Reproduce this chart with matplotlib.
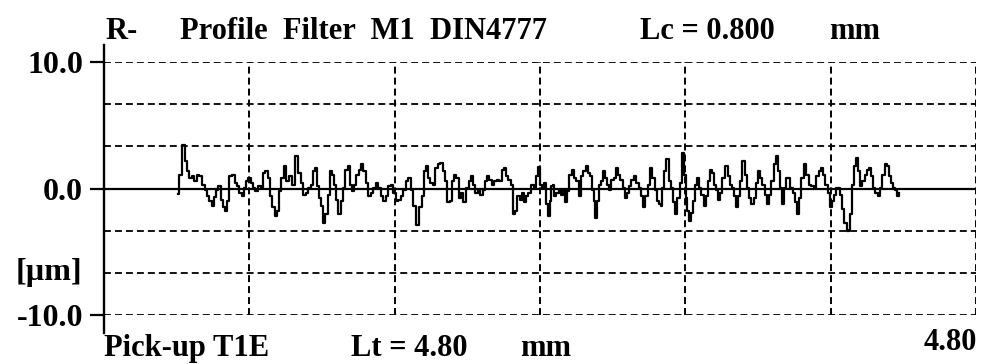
import numpy as np
import matplotlib
matplotlib.use("Agg")
import matplotlib.pyplot as plt
from matplotlib.lines import Line2D

# ---------------- data ----------------
# profile position along trace [mm]
pos_mm = [
    0.409, 0.418, 0.437, 0.450, 0.464, 0.477, 0.492, 0.501, 0.519, 0.532,
    0.547, 0.561, 0.574, 0.587, 0.598, 0.611, 0.624, 0.635, 0.648, 0.657,
    0.672, 0.684, 0.697, 0.712, 0.725, 0.739, 0.752, 0.763, 0.776, 0.789,
    0.800, 0.813, 0.826, 0.840, 0.855, 0.868, 0.881, 0.895, 0.908, 0.919,
    0.932, 0.947, 0.960, 0.969, 0.982, 0.996, 1.009, 1.024, 1.042,
    1.062, 1.075, 1.090, 1.105, 1.117, 1.130, 1.145, 1.158, 1.167, 1.178,
    1.191, 1.200, 1.213, 1.224, 1.237, 1.250, 1.261, 1.270, 1.283, 1.295,
    1.310, 1.323, 1.334, 1.347, 1.360, 1.371, 1.383, 1.396, 1.407, 1.420,
    1.433, 1.448, 1.461, 1.475, 1.488, 1.503, 1.516, 1.530, 1.545, 1.558,
    1.571, 1.585, 1.600, 1.613, 1.626, 1.640, 1.655, 1.668, 1.681, 1.695,
    1.710,
    1.728, 1.743, 1.756, 1.765, 1.776, 1.789, 1.802, 1.816, 1.829, 1.844,
    1.857, 1.872, 1.884, 1.897, 1.908, 1.921, 1.932, 1.945, 1.960, 1.972,
    1.985, 2.000, 2.013, 2.024, 2.037, 2.050, 2.064, 2.077, 2.092, 2.105,
    2.116, 2.128, 2.141, 2.156, 2.169, 2.183, 2.196, 2.207, 2.220, 2.233,
    2.244, 2.257, 2.270, 2.281, 2.294, 2.306, 2.317, 2.330, 2.343, 2.358,
    2.371, 2.382,
    2.393, 2.405, 2.418, 2.429, 2.439, 2.448, 2.457, 2.466, 2.475, 2.484,
    2.497, 2.510, 2.521, 2.534, 2.543, 2.556, 2.567, 2.580, 2.593, 2.607,
    2.620, 2.631, 2.644, 2.657, 2.668, 2.681, 2.690, 2.701, 2.708, 2.719,
    2.730, 2.741, 2.750, 2.763, 2.776, 2.787, 2.800, 2.813, 2.824, 2.837,
    2.849, 2.861, 2.870, 2.883, 2.895, 2.910, 2.923, 2.938, 2.950, 2.961,
    2.974, 2.987, 2.998, 3.011, 3.024, 3.038, 3.053, 3.062,
    3.068, 3.077, 3.090, 3.101, 3.114, 3.127, 3.138, 3.150, 3.163, 3.174,
    3.187, 3.196, 3.206, 3.215, 3.224, 3.233, 3.246, 3.257, 3.270, 3.283,
    3.294, 3.306, 3.319, 3.330, 3.339, 3.352, 3.365, 3.376, 3.389, 3.398,
    3.411, 3.426, 3.439, 3.450, 3.462, 3.475, 3.486, 3.499, 3.508, 3.521,
    3.532, 3.545, 3.558, 3.569, 3.582, 3.594, 3.605, 3.618, 3.631, 3.642,
    3.655, 3.668, 3.679, 3.692, 3.703, 3.714, 3.725,
    3.739, 3.749, 3.761, 3.772, 3.785, 3.798, 3.809, 3.822, 3.831, 3.844,
    3.859, 3.872, 3.886, 3.899, 3.914, 3.927, 3.941, 3.954, 3.965, 3.978,
    3.991, 4.002, 4.011, 4.024, 4.037, 4.048, 4.060, 4.070, 4.082, 4.094,
    4.103, 4.112, 4.121, 4.132, 4.143, 4.154, 4.167, 4.180, 4.193, 4.204,
    4.216, 4.229, 4.240, 4.253, 4.266, 4.277, 4.290, 4.303, 4.314, 4.327,
    4.339, 4.350, 4.363, 4.372, 4.378,
]
# profile height [um]
height_um = [
    -0.4, 1.1, 3.4, 2.2, 1.4, 0.85, 1.0, 0.6, 1.1, 1.0,
    0.3, -0.1, -0.6, -1.0, -1.4, -0.7, -0.1, 0.2, -0.9, -1.5,
    -1.8, -1.0, 1.0, 1.1, 0.45, 0.2, -0.35, -0.6, 0.05, 0.6,
    0.85, 0.45, 0.05, -0.2, 0.2, 0.05, 1.25, 1.4, 0.85, -0.6,
    -1.5, -2.2, -1.8, -0.2, 0.85, 1.75, 0.6, 1.0, 0.3,
    2.55, 1.25, 0.45, -0.5, -0.35, 0.05, 0.3, 1.35, 1.6, 0.2,
    -0.75, -1.4, -2.7, -2.05, -0.5, 1.35, 1.1, 0.3, -0.9, -2.05,
    -1.0, 0.05, 1.5, 1.75, 0.3, -0.2, 0.3, 1.1, 1.5, 1.9,
    1.35, 0.45, -0.6, -0.35, 0.05, 0.45, 0.05, -0.6, -1.0, -0.6,
    0.2, 0.3, -0.35, -1.0, -0.9, -0.6, -0.1, 0.6, 0.85, -0.1,
    -1.4,
    -2.85, -1.5, -0.6, 1.35, 1.75, 0.85, 0.45, 0.3, 1.6, 1.9,
    2.0, 1.35, 0.6, -1.1, -1.0, 0.6, 1.1, 0.85, -0.75, -0.35,
    -1.1, 0.05, 0.6, 1.0, 0.3, -0.35, -0.1, -0.5, -0.1, 0.6,
    1.0, 0.7, 0.3, 0.6, 0.7, 0.6, 1.5, 1.6, 1.0, 0.7,
    0.3, -2.05, -1.8, -0.6, -0.9, -0.35, -1.1, -0.6, -0.35, 0.3,
    0.05, 1.0,
    1.7, 0.3, 0.05, 0.45, -1.25, -2.2, -1.0, 0.2, 0.3, -0.6,
    -0.35, -0.1, -0.5, -0.1, -1.1, -0.2, 1.1, 1.5, 0.85, 0.6,
    -0.6, 1.0, 1.35, 1.75, 1.25, 1.0, -0.1, -1.0, -2.3, -1.0,
    0.3, 0.6, 1.35, 0.85, 0.3, -0.1, 0.7, 0.85, 1.6, 1.1,
    0.7, 0.05, -0.75, -0.35, 0.2, 0.7, 1.0, 0.45, 0.05, -0.6,
    -1.5, -0.6, 0.3, 1.6, 0.85, -0.1, -1.0, -1.25,
    -1.4, 0.05, 1.35, 2.3, 0.6, 0.05, -1.1, -2.05, -0.75, 0.45,
    2.8, 1.1, -0.75, -1.8, -2.6, -1.9, -1.0, 0.3, 0.85, 0.05,
    -0.5, -1.4, -0.6, 0.6, 1.5, 1.25, 0.3, -0.1, -0.9, -0.35,
    0.85, 1.75, 1.0, 0.3, 0.05, -0.6, -1.5, -0.6, 0.6, 2.15,
    1.1, 0.05, -0.75, -1.25, -0.75, 0.45, 1.35, 0.85, 0.3, -0.5,
    -1.25, -0.5, 0.6, 1.9, 2.55, 1.35, 0.05,
    -1.25, 0.05, 0.85, 0.85, 0.05, -0.35, -1.1, -2.05, -0.75, 0.85,
    1.9, 1.1, 0.3, 0.2, 0.05, 1.0, 1.35, 1.6, 1.1, 0.3,
    -0.35, -1.5, -1.0, -0.5, 0.05, 0.05, -0.5, -1.65, -2.7, -3.35,
    -3.25, -2.05, 0.3, 1.75, 2.4, 1.35, 0.2, 0.6, 1.1, 1.5,
    1.6, 1.0, 0.05, -0.35, -0.6, 0.05, 1.1, 1.9, 1.75, 1.0,
    0.45, 0.05, -0.1, -0.6, -0.35,
]

y_ticks = [-10.0, 0.0, 10.0]
y_tick_labels = ["-10.0", "0.0", "10.0"]
trace_length_mm = 4.80
x_grid_step_mm = 0.80
y_grid_levels = 6

# ---------------- figure ----------------
W, H = 982, 364
fig = plt.figure(figsize=(W / 100, H / 100), dpi=100)
plt.rcParams["lines.scale_dashes"] = False
SERIF = ["Liberation Serif", "DejaVu Serif"]
FS = 22

left, right, top, bottom = 104, 976, 62, 315
ax = fig.add_axes([left / W, (H - bottom) / H, (right - left) / W, (bottom - top) / H])
ax.set_xlim(0, trace_length_mm)
ax.set_ylim(-10, 10)
for s in ax.spines.values():
    s.set_visible(False)

dash = (0, (5.0, 2.9))
# horizontal grid
for yv in np.linspace(-10, 10, y_grid_levels + 1):
    if abs(yv) < 1e-9:
        ax.axhline(0, color="black", lw=1.6, zorder=3)
    else:
        ax.axhline(yv, color="black", lw=1.3, linestyle=dash, zorder=1)
# vertical grid
for xv in np.arange(x_grid_step_mm, trace_length_mm + 1e-9, x_grid_step_mm):
    ax.axvline(xv, color="black", lw=1.4, linestyle=dash, zorder=1)

# left axis line extending beyond plot
ax.add_line(Line2D([0, 0], [-0.07, 1.068], transform=ax.transAxes, color="black",
                   lw=1.7, clip_on=False, zorder=4))

# profile
ax.plot(pos_mm, height_um, color="black", lw=1.6, drawstyle="steps-mid", zorder=5)

# y ticks
ax.set_yticks(y_ticks)
ax.set_yticklabels(y_tick_labels, fontfamily=SERIF, fontweight="bold", fontsize=FS + 1)
ax.tick_params(axis="y", length=10, width=1.6, pad=5, direction="out")
ax.set_xticks([])
ax.text(-0.025, -20 / 3, "[\u00b5m]", transform=ax.get_yaxis_transform(),
        ha="right", va="center", fontfamily=SERIF, fontweight="bold", fontsize=FS + 1)

# titles / footers
tkw = dict(fontfamily=SERIF, fontsize=FS, fontweight="bold", va="baseline", color="black")
fig.text(105 / W, 1 - 39 / H, "R-", ha="left", **tkw)
fig.text(180 / W, 1 - 39 / H, "Profile  Filter  M1  DIN4777", ha="left", **tkw)
fig.text(640 / W, 1 - 39 / H, "Lc = 0.800", ha="left", **tkw)
fig.text(829 / W, 1 - 39 / H, "mm", ha="left", **tkw)
fig.text(104 / W, 1 - 356 / H, "Pick-up T1E", ha="left", **tkw)
fig.text(351 / W, 1 - 356 / H, "Lt = 4.80", ha="left", **tkw)
fig.text(520 / W, 1 - 356 / H, "mm", ha="left", **tkw)
fig.text(977 / W, 1 - 350 / H, "4.80", ha="right", **tkw)

fig.savefig("out.png", dpi=100)
